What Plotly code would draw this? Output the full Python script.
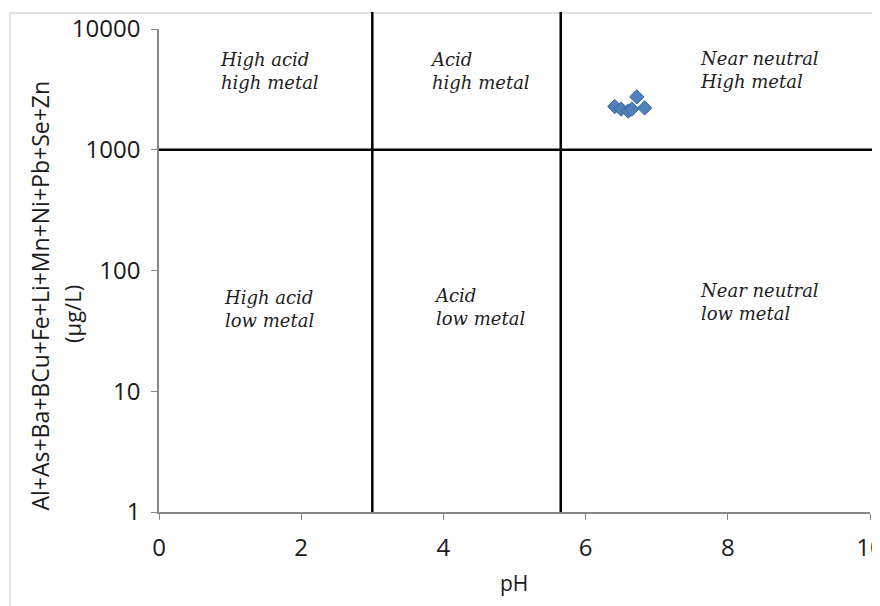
import plotly.graph_objects as go
import math

# Data
ph_values = [6.41, 6.50, 6.60, 6.65, 6.72, 6.83]
metal_sum = [2280, 2170, 2090, 2170, 2740, 2220]

ph_boundaries = [3.0, 5.65]
metal_boundary = 1000

x_ticks = [0, 2, 4, 6, 8, 10]
y_ticks = [1, 10, 100, 1000, 10000]

region_text = ["High acid<br>high metal", "Acid<br>high metal", "Near neutral<br>High metal",
               "High acid<br>low metal", "Acid<br>low metal", "Near neutral<br>low metal"]
region_ph = [0.83, 3.78, 7.58, 0.88, 3.84, 7.58]
region_metal = [4490, 4490, 4570, 48, 50, 55]

y_title = "Al+As+Ba+BCu+Fe+Li+Mn+Ni+Pb+Se+Zn"
y_unit = "(µg/L)"
x_title = "pH"

fig = go.Figure()
fig.add_trace(go.Scatter(
    x=ph_values, y=metal_sum, mode="markers",
    marker=dict(symbol="diamond", size=11, color="#4F81BD",
                line=dict(color="#3A659A", width=1)),
    showlegend=False,
))

# boundary lines
for b in ph_boundaries:
    fig.add_shape(type="line", xref="x", yref="paper", x0=b, x1=b, y0=0, y1=1.035,
                  line=dict(color="black", width=2.5))
fig.add_shape(type="line", xref="paper", yref="y", x0=0, x1=1.03,
              y0=metal_boundary, y1=metal_boundary,
              line=dict(color="black", width=2.5))

# chart area border
fig.add_shape(type="rect", xref="paper", yref="paper",
              x0=-0.2096, x1=1.1, y0=-0.25, y1=1.0331,
              line=dict(color="#D9D9D9", width=1.5), layer="below")

for text, x, y in zip(region_text, region_ph, region_metal):
    fig.add_annotation(x=x, y=math.log10(y), xref="x", yref="y", text=text, showarrow=False,
                       xanchor="left", yanchor="middle", align="left",
                       font=dict(family="DejaVu Serif", size=18, color="#1e1e1e",
                                 style="italic"))

# axis titles
fig.add_annotation(x=-0.1674, y=0.448, xref="paper", yref="paper", text=y_title,
                   showarrow=False, textangle=-90, xanchor="center", yanchor="middle",
                   font=dict(family="Open Sans", size=23, color="#1a1a1a"))
fig.add_annotation(x=-0.1224, y=0.410, xref="paper", yref="paper", text=y_unit,
                   showarrow=False, textangle=-90, xanchor="center", yanchor="middle",
                   font=dict(family="Open Sans", size=22, color="#1a1a1a"))
fig.add_annotation(x=0.4993, y=-0.147, xref="paper", yref="paper", text=x_title,
                   showarrow=False, xanchor="center", yanchor="middle",
                   font=dict(family="Open Sans", size=21, color="#1a1a1a"))

fig.update_layout(
    width=880, height=606,
    margin=dict(l=151, r=18, t=21, b=102),
    paper_bgcolor="white", plot_bgcolor="white",
    font=dict(family="Open Sans", size=22, color="#1a1a1a"),
)
fig.update_xaxes(
    range=[0, 10], tickvals=x_ticks, ticks="outside", ticklen=6, tickcolor="#888888",
    showline=True, linecolor="#888888", linewidth=1.5, showgrid=False, zeroline=False,
    tickfont=dict(size=24), ticklabelstandoff=7, automargin=False,
)
fig.update_yaxes(
    type="log", range=[0, 4], tickvals=y_ticks, ticktext=[str(v) for v in y_ticks],
    ticks="outside", ticklen=6, tickcolor="#888888",
    showline=True, linecolor="#888888", linewidth=1.5, showgrid=False, zeroline=False,
    tickfont=dict(size=24), ticklabelstandoff=6, automargin=False,
)

fig.write_html("out.html")
